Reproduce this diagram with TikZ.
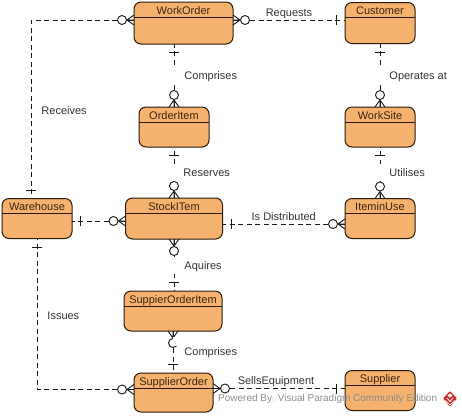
\documentclass[tikz,border=0pt]{standalone}
\usepackage{fontspec}
\setmainfont{Liberation Sans}
\newfontfamily\boxfont{DejaVu Sans}
\usetikzlibrary{positioning, shapes.geometric, calc}
\definecolor{entityfill}{HTML}{F5B26F}
\definecolor{entityline}{HTML}{2A1A0A}
\definecolor{titletext}{HTML}{3A2410}
\definecolor{marktext}{HTML}{8C8C8C}
\definecolor{logored}{HTML}{C9302C}

\begin{document}
\begin{tikzpicture}[
                x=1pt, y=-1pt,
                entity/.style n args={2}{draw=entityline, line width=1pt, outer sep=0pt, rectangle, rounded corners=7pt, fill=entityfill, text=titletext, font=\fontsize{11}{13}\selectfont, inner xsep=0pt, inner ysep=4pt, text height=8pt, minimum width=#1, text depth=#2, path picture={\draw[entityline, line width=1pt] ([yshift=-15pt]path picture bounding box.north west) -- ([yshift=-15pt]path picture bounding box.north east);}},
                edge/.style={line width=0.9pt, black!90, dash pattern=on 5pt off 3.5pt},
                varlabel/.style={font=\fontsize{11}{13}\selectfont, text=black!80, inner sep=2pt, text height=8pt, text depth=2.5pt, yshift=-1pt},
                linegap/.style={fill=white, inner sep=0pt, minimum width=3pt, minimum height=17pt},
                markpic/.style={sloped, allow upside down},
                manyend/.pic={\draw[solid, line width=0.9pt] (0,5) -- (7,0) -- (0,-5) (0,0) -- (7,0); \draw[solid, line width=0.9pt, fill=white] (12,0) circle (4.5pt);},
                onebar/.pic={\draw[solid, line width=0.9pt] (-8.5,5) -- (-8.5,-5);}
            ]
            \useasboundingbox (0,0) rectangle (462,416);

            % entities
            \node[entity={99pt}{26pt}] (workorder) at (183.5,23) {WorkOrder};
            \node[entity={70pt}{25pt}, right=112pt of workorder] (customer) {Customer};
            \node[entity={70pt}{24pt}, below=63pt of workorder, xshift=-9.5pt] (orderitem) {OrderItem};
            \node[entity={70pt}{24pt}, right=136pt of orderitem] (worksite) {WorkSite};
            \node[entity={97pt}{25pt}, below=51pt of orderitem] (stockitem) {StockITem};
            \node[entity={70pt}{24pt}, left=53.5pt of stockitem] (warehouse) {Warehouse};
            \node[entity={70pt}{24pt}, right=122.5pt of stockitem] (iteminuse) {IteminUse};
            \node[entity={98pt}{24pt}, below=52pt of stockitem, xshift=-1pt] (suppierorderitem) {SuppierOrderItem};
            \node[entity={79pt}{23pt}, below=42pt of suppierorderitem, xshift=0.5pt] (supplierorder) {SupplierOrder};
            \node[entity={70pt}{24pt}, right=132pt of supplierorder, yshift=2pt] (supplier) {Supplier};

            % relationships, each from its many end to its one end
            \draw[edge] ([yshift=3pt]workorder.west) -| ([xshift=-6pt]warehouse.north) pic[pos=0, markpic] {manyend} pic[pos=1, markpic] {onebar} node[pos=0.75, right=8pt, varlabel, yshift=-1pt] (receives) {Receives};
            \draw[edge] ([yshift=3pt]workorder.east) -- ([yshift=3pt]customer.west) pic[pos=0, markpic] {manyend} pic[pos=1, markpic] {onebar} node[midway, above, varlabel] (requests) {Requests};
            \draw[edge] (orderitem.north) -- (orderitem.north |- workorder.south) pic[pos=0, markpic] {manyend} pic[pos=1, markpic] {onebar} node[midway, linegap] (gapa) {} node[midway, right=8pt, varlabel] (comprisesa) {Comprises};
            \draw[edge] (worksite.north) -- (worksite.north |- customer.south) pic[pos=0, markpic] {manyend} pic[pos=1, markpic] {onebar} node[midway, linegap, minimum height=14pt] (gapb) {} node[midway, right=7pt, varlabel] (operates) {Operates at};
            \draw[edge] (stockitem.north) -- (orderitem.south) pic[pos=0, markpic] {manyend} pic[pos=1, markpic] {onebar} node[midway, linegap] (gapc) {} node[midway, right=7pt, varlabel] (reserves) {Reserves};
            \draw[edge] (iteminuse.north) -- (worksite.south) pic[pos=0, markpic] {manyend} pic[pos=1, markpic] {onebar} node[midway, linegap] (gapd) {} node[midway, right=7pt, varlabel] (utilises) {Utilises};
            \draw[edge] ([yshift=-2.5pt]stockitem.west) -- ([yshift=-2.5pt]warehouse.east) pic[pos=0, markpic] {manyend} pic[pos=1, markpic] {onebar};
            \draw[edge] ([yshift=-5.5pt]iteminuse.west) -- ([yshift=-5.5pt]stockitem.east) pic[pos=0, markpic] {manyend} pic[pos=1, markpic] {onebar} node[midway, above, varlabel] (distributed) {Is Distributed};
            \draw[edge] (stockitem.south) -- (stockitem.south |- suppierorderitem.north) pic[pos=0, markpic] {manyend} pic[pos=1, markpic] {onebar} node[midway, linegap] (gape) {} node[midway, right=8pt, varlabel, yshift=-1pt] (aquires) {Aquires};
            \draw[edge] (suppierorderitem.south) -- (suppierorderitem.south |- supplierorder.north) pic[pos=0, markpic] {manyend} pic[pos=1, markpic] {onebar} node[pos=0.25, linegap, anchor=west, minimum width=7pt, minimum height=9pt, xshift=-0.3pt] (gapf) {} node[midway, right=9pt, varlabel] (comprisesb) {Comprises};
            \draw[edge] ([yshift=3pt]supplierorder.west) -| (warehouse.south) pic[pos=0, markpic] {manyend} pic[pos=1, markpic] {onebar} node[pos=0.75, right=8pt, varlabel, yshift=-2pt] (issues) {Issues};
            \draw[edge] ([yshift=4pt]supplierorder.east) -- ([yshift=2pt]supplier.west) pic[pos=0, markpic] {manyend} pic[pos=1, markpic] {onebar} node[midway, above, varlabel, xshift=-3pt] (sells) {SellsEquipment};

            % watermark
            \node[font=\fontsize{10}{13}\selectfont, text=marktext, inner sep=0pt, anchor=west] (powered) at (218,399) {Powered By{\boxfont\fontsize{6}{7}\selectfont\textcolor{black!15}{□}}Visual Paradigm Community Edition};
            \fill[logored, rounded corners=1pt] (450,391) -- (457,398.5) -- (450,407) -- (443,398.5) -- cycle;
            \draw[white, line width=0.8pt] (445,400.5) -- (450,405) -- (455,400.5) (447,398) -- (450,401.5) -- (453,398);
            \fill[white] (447.5,395.5) -- (450,393.5) -- (452.5,395.5) -- (450,397.5) -- cycle;
        \end{tikzpicture}
\end{document}
